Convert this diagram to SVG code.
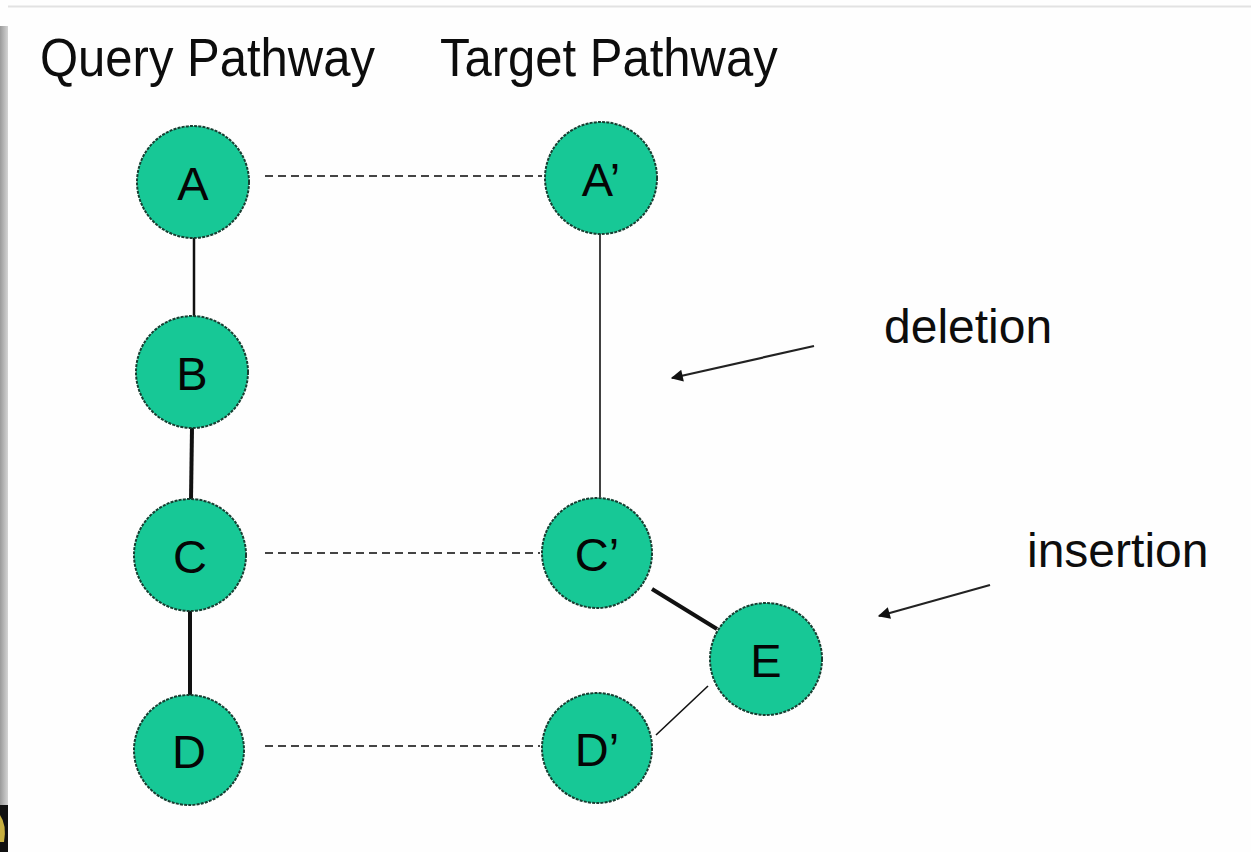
<svg xmlns="http://www.w3.org/2000/svg" width="1251" height="852" viewBox="0 0 1251 852">
  <style>
    .title { font-family: "Liberation Sans", Arial, sans-serif; font-size: 49px; fill: #0d0d0d; }
    .note { font-family: "Liberation Sans", Arial, sans-serif; font-size: 48px; fill: #0d0d0d; }
    .node circle { fill: #17c896; stroke: #173f32; stroke-width: 2; stroke-dasharray: 3 1.2; }
    .node text { font-family: "Liberation Sans", Arial, sans-serif; font-size: 47px; fill: #050505; text-anchor: middle; }
    .edge { stroke: #111; fill: none; }
    .match { stroke: #444; stroke-width: 1.8; stroke-dasharray: 8 5; fill: none; }
    .pointer { stroke: #222; stroke-width: 2.2; fill: none; marker-end: url(#head); }
  </style>
  <defs>
    <marker id="head" viewBox="0 0 10 10" refX="9" refY="5" markerWidth="15" markerHeight="12" markerUnits="userSpaceOnUse" orient="auto">
      <path d="M0,0 L10,5 L0,10 Z" fill="#111"/>
    </marker>
    <linearGradient id="edgeShade" x1="0" y1="0" x2="1" y2="0">
      <stop offset="0" stop-color="#9a9a9a"/>
      <stop offset="1" stop-color="#d4d4d4"/>
    </linearGradient>
  </defs>

  <!-- page -->
  <rect width="1251" height="852" fill="#fefefe"/>
  <line x1="8" y1="6.5" x2="1251" y2="6.5" stroke="#e2e2e2" stroke-width="2"/>
  <rect x="0" y="26" width="8" height="826" fill="url(#edgeShade)"/>
  <rect x="0" y="805" width="8" height="47" fill="#111"/>
  <path d="M0,815 Q7,825 4,842 L0,842 Z" fill="#c8b040"/>

  <!-- headings and annotations -->
  <text class="title" transform="translate(40 76) scale(1 1.1)">Query Pathway</text>
  <text class="title" transform="translate(440 76) scale(1 1.1)">Target Pathway</text>
  <text class="note" x="884" y="343">deletion</text>
  <text class="note" x="1027" y="567">insertion</text>

  <!-- connectors -->
  <g id="connectors">
    <line class="edge" x1="194" y1="238" x2="194" y2="318" stroke-width="2.5"/>
    <line class="edge" x1="192" y1="428" x2="191" y2="500" stroke-width="4"/>
    <line class="edge" x1="190" y1="611" x2="190" y2="695" stroke-width="4"/>
    <line class="edge" x1="600" y1="234" x2="600" y2="497" stroke-width="1.6"/>
    <line class="edge" x1="652" y1="589" x2="717" y2="629" stroke-width="4"/>
    <line class="edge" x1="708" y1="686" x2="656" y2="735" stroke-width="1.6" stroke="#333"/>
    <line class="match" x1="265" y1="176" x2="542" y2="176"/>
    <line class="match" x1="265" y1="553" x2="540" y2="553"/>
    <line class="match" x1="265" y1="746" x2="540" y2="746"/>
    <line class="pointer" x1="814" y1="346" x2="672" y2="378"/>
    <line class="pointer" x1="990" y1="585" x2="879" y2="616"/>
  </g>

  <!-- nodes -->
  <g id="node-A" class="node"><circle cx="193" cy="182" r="56"/><text x="193" y="200">A</text></g>
  <g id="node-B" class="node"><circle cx="192" cy="372" r="56"/><text x="192" y="390">B</text></g>
  <g id="node-C" class="node"><circle cx="190" cy="555" r="56"/><text x="190" y="573">C</text></g>
  <g id="node-D" class="node"><circle cx="189" cy="750" r="55"/><text x="189" y="768">D</text></g>
  <g id="node-A2" class="node"><circle cx="601" cy="178" r="56"/><text x="601" y="196">A’</text></g>
  <g id="node-C2" class="node"><circle cx="597" cy="553" r="55"/><text x="597" y="571">C’</text></g>
  <g id="node-D2" class="node"><circle cx="597" cy="748" r="55"/><text x="597" y="766">D’</text></g>
  <g id="node-E" class="node"><circle cx="766" cy="659" r="56"/><text x="766" y="677">E</text></g>
</svg>
